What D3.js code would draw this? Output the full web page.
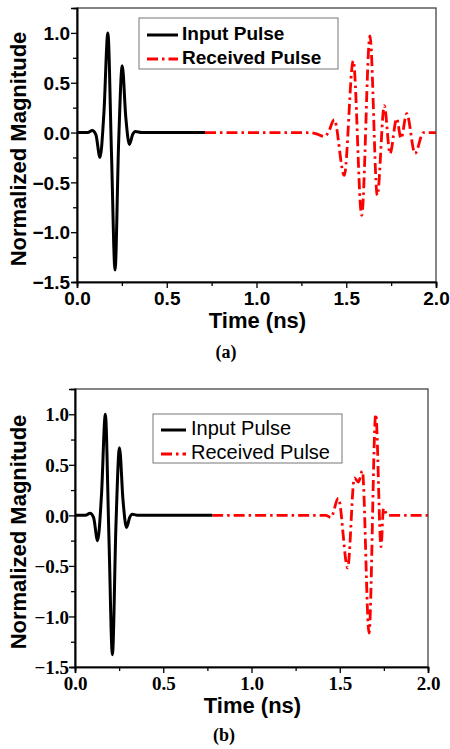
<!DOCTYPE html>
<html>
<head>
<meta charset="utf-8">
<script src="https://cdn.jsdelivr.net/npm/d3@7"></script>
<style>
  body { margin: 0; background: #fff; }
  svg { display: block; }
</style>
</head>
<body>
<svg id="fig" width="450" height="749"></svg>
<script>
// input pulse (same shape in both panels), time in ns
var inputTime = [0, 0.06, 0.085, 0.105, 0.128, 0.15, 0.172, 0.192, 0.212, 0.232, 0.252, 0.272, 0.292, 0.31, 0.325, 0.36];
var inputVal  = [0, 0, 0.02, -0.02, -0.25, 0.2, 1.0, -0.2, -1.38, -0.1, 0.67, 0.15, -0.12, -0.02, 0.01, 0];
var inputEndA = 0.713;
var inputEndB = 0.777;

// received pulse, panel (a) - starts where the input trace stops
var recvTimeA = [0.713, 1.30, 1.33, 1.38, 1.40, 1.433, 1.489, 1.539, 1.586, 1.632, 1.673, 1.712, 1.744, 1.781, 1.805, 1.837, 1.883, 1.93, 2.0];
var recvValA  = [0, 0, -0.01, -0.04, 0.0, 0.13, -0.43, 0.72, -0.83, 0.97, -0.63, 0.27, -0.21, 0.14, -0.06, 0.19, -0.21, 0.0, 0];

// received pulse, panel (b)
var recvTimeB = [0.777, 1.42, 1.45, 1.492, 1.545, 1.583, 1.606, 1.628, 1.666, 1.704, 1.734, 1.748, 1.77, 2.0];
var recvValB  = [0, 0, -0.02, 0.17, -0.52, 0.37, 0.33, 0.44, -1.165, 1.0, -0.31, 0.07, 0, 0];

var xTicks = [0, 0.5, 1.0, 1.5, 2.0];
var yTicks = [-1.5, -1.0, -0.5, 0.0, 0.5, 1.0];
var legendNames = ["Input Pulse", "Received Pulse"];

var svg = d3.select("#fig");

function pairs(ts, vs) {
  return ts.map(function(t, i){ return [t, vs[i]]; });
}

function drawPanel(cfg) {
  var x = d3.scaleLinear().domain([0, 2]).range([cfg.left, cfg.right]);
  var y = d3.scaleLinear().domain([-1.5, 1.25]).range([cfg.bottom, cfg.top]);
  var g = svg.append("g");

  var line = d3.line()
      .x(function(d){ return x(d[0]); })
      .y(function(d){ return y(d[1]); })
      .curve(d3.curveMonotoneX);

  // received pulse
  g.append("path")
    .attr("d", line(cfg.recv))
    .attr("fill", "none")
    .attr("stroke", "#ff0000")
    .attr("stroke-width", 2.8)
    .attr("stroke-dasharray", "11,4,2.5,4");

  // input pulse
  var inp = pairs(inputTime, inputVal);
  inp.push([cfg.inputEnd, 0]);
  g.append("path")
    .attr("d", line(inp))
    .attr("fill", "none")
    .attr("stroke", "#000")
    .attr("stroke-width", 3);

  // frame
  g.append("rect")
    .attr("x", cfg.left).attr("y", cfg.top)
    .attr("width", cfg.right - cfg.left).attr("height", cfg.bottom - cfg.top)
    .attr("fill", "none").attr("stroke", "#444").attr("stroke-width", 1.3);

  // axes
  var xAxis = d3.axisBottom(x).tickValues(xTicks).tickSize(6).tickFormat(d3.format(".1f"));
  var xMinor = d3.axisBottom(x).tickValues(d3.range(0.25, 2, 0.5)).tickSize(4).tickFormat("");
  var yAxis = d3.axisLeft(y).tickValues(yTicks).tickSize(6).tickFormat(d3.format(".1f"));
  var yMinor = d3.axisLeft(y).tickValues(d3.range(-1.25, 1.25, 0.5)).tickSize(4).tickFormat("");

  var gx = g.append("g").attr("transform", "translate(0," + cfg.bottom + ")").call(xAxis);
  g.append("g").attr("transform", "translate(0," + cfg.bottom + ")").call(xMinor);
  var gy = g.append("g").attr("transform", "translate(" + cfg.left + ",0)").call(yAxis);
  g.append("g").attr("transform", "translate(" + cfg.left + ",0)").call(yMinor);

  g.selectAll(".domain").attr("stroke", "#000").attr("stroke-width", 1.6);
  g.selectAll(".tick line").attr("stroke", "#000").attr("stroke-width", 1.3);

  gx.selectAll(".tick text")
    .attr("y", cfg.xLabelDy).attr("dy", "0.35em")
    .style("font-family", cfg.tickFont).style("font-weight", "bold")
    .style("font-size", cfg.tickSize + "px").attr("fill", "#000");
  gy.selectAll(".tick text")
    .attr("x", -cfg.yLabelDx).attr("dy", "0.35em")
    .style("font-family", cfg.tickFont).style("font-weight", "bold")
    .style("font-size", cfg.tickSize + "px").attr("fill", "#000");

  // axis titles
  g.append("text")
    .attr("x", (cfg.left + cfg.right) / 2 + 1).attr("y", cfg.bottom + cfg.xTitleDy)
    .attr("dy", "0.35em").attr("text-anchor", "middle")
    .style("font-family", "'Liberation Sans', Arial, sans-serif")
    .style("font-weight", "bold").style("font-size", "22px")
    .text("Time (ns)");
  g.append("text")
    .attr("transform", "translate(18," + cfg.yTitleY + ") rotate(-90)")
    .attr("dy", "0.35em").attr("text-anchor", "middle")
    .style("font-family", "'Liberation Sans', Arial, sans-serif")
    .style("font-weight", "bold").style("font-size", "22px")
    .text("Normalized Magnitude");

  // legend
  var L = cfg.legend;
  g.append("rect")
    .attr("x", L.x).attr("y", L.y).attr("width", L.w).attr("height", L.h)
    .attr("fill", "#fff").attr("stroke", "#777").attr("stroke-width", 1);
  legendNames.forEach(function(name, i){
    var ly = L.y + L.row0 + i * L.rowGap;
    g.append("line")
      .attr("x1", L.x + 8).attr("x2", L.x + 8 + L.sample)
      .attr("y1", ly + 2).attr("y2", ly + 2)
      .attr("stroke", i == 0 ? "#000" : "#ff0000")
      .attr("stroke-width", i == 0 ? 3 : 2.8)
      .attr("stroke-dasharray", i == 0 ? null : "11,4,2.5,4");
    g.append("text")
      .attr("x", L.textX).attr("y", ly).attr("dy", "0.35em")
      .style("font-family", "'Liberation Sans', Arial, sans-serif")
      .style("font-weight", L.weight).style("font-size", L.size + "px")
      .text(name);
  });

  // panel caption
  svg.append("text")
    .attr("x", cfg.capX).attr("y", cfg.capY).attr("dy", "0.35em")
    .attr("text-anchor", "middle")
    .style("font-family", "'Liberation Serif', 'Times New Roman', serif")
    .style("font-weight", "bold").style("font-size", "18px")
    .text(cfg.caption);
}

drawPanel({
  left: 77, right: 436, top: 8, bottom: 282,
  recv: pairs(recvTimeA, recvValA), inputEnd: inputEndA,
  tickFont: "'Liberation Sans', Arial, sans-serif", tickSize: 19,
  xLabelDy: 16, yLabelDx: 7, xTitleDy: 38, yTitleY: 149,
  legend: {x: 139, y: 18, w: 199, h: 51, row0: 15, rowGap: 24, sample: 31, textX: 182, weight: "bold", size: 19},
  caption: "(a)", capX: 226, capY: 352
});

drawPanel({
  left: 75, right: 428, top: 389, bottom: 667,
  recv: pairs(recvTimeB, recvValB), inputEnd: inputEndB,
  tickFont: "'Liberation Serif', 'Times New Roman', serif", tickSize: 19,
  xLabelDy: 16, yLabelDx: 6, xTitleDy: 38, yTitleY: 532,
  legend: {x: 153, y: 414, w: 189, h: 49, row0: 14, rowGap: 24, sample: 25, textX: 191, weight: "normal", size: 20},
  caption: "(b)", capX: 224, capY: 735
});
</script>
</body>
</html>
